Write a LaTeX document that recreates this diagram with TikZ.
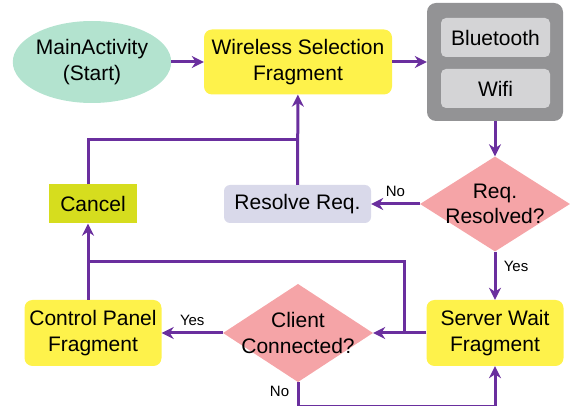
\documentclass[tikz,border=0pt]{standalone}
\usepackage{fontspec}
\setmainfont{Liberation Sans}
\usetikzlibrary{arrows.meta, shapes.geometric, positioning}

\definecolor{flowpurple}{HTML}{6A2F9E}
\definecolor{fragyellow}{HTML}{FEF24B}
\definecolor{startmint}{HTML}{B3E3CF}
\definecolor{radiogray}{HTML}{939395}
\definecolor{radiolight}{HTML}{D4D4D6}
\definecolor{decidepink}{HTML}{F5A4A7}
\definecolor{cancelgreen}{HTML}{D6DD1E}
\definecolor{resolvelav}{HTML}{D9D9EA}

\newcommand{\flowfont}{\fontsize{21}{25.5}\selectfont}
\newcommand{\labfont}{\fontsize{15}{17}\selectfont}

\begin{document}
\begin{tikzpicture}[x=1pt,y=-1pt,
    line/.style={draw=flowpurple, line width=3pt},
    arr/.style={line, -{Stealth[length=12pt,width=12pt]}},
    lab/.style={font=\labfont, text=black},
    startnode/.style={ellipse, fill=startmint, minimum width=155pt, minimum height=82pt, inner sep=0pt, align=center, font=\flowfont},
    frag/.style={fill=fragyellow, rounded corners=8pt, inner sep=2pt, align=center, font=\flowfont},
    radiobox/.style={fill=radiogray, rounded corners=9pt, minimum width=136pt, minimum height=118pt},
    subbox/.style={fill=radiolight, rounded corners=5pt, minimum width=109pt, minimum height=39pt, inner sep=0pt, font=\flowfont},
    decide/.style={diamond, fill=decidepink, minimum width=150pt, minimum height=95pt, inner sep=-14pt, align=center, font=\flowfont},
    resolvebox/.style={fill=resolvelav, rounded corners=6pt, minimum width=147pt, minimum height=38pt, inner sep=0pt, font=\flowfont},
    cancelbox/.style={fill=cancelgreen, minimum width=88pt, minimum height=39pt, inner sep=0pt, font=\flowfont}]

    \useasboundingbox (0,0) rectangle (571,406);

    \node[startnode] (main) at (92,62) {MainActivity\\(Start)};
    \node[frag, minimum width=188pt, minimum height=65pt] (wsf) at (298,62) {Wireless Selection\\Fragment};
    \node[radiobox] (radio) at (495,62) {};
    \node[subbox] (bt) at (495.5,37.5) {Bluetooth};
    \node[subbox] (wifi) at (495.5,88.5) {Wifi};
    \node[decide] (reqok) at (495,204) {Req.\\Resolved?};
    \node[resolvebox] (resolve) at (297.5,204) {Resolve Req.};
    \node[cancelbox] (cancel) at (93,204) {Cancel};
    \node[frag, minimum width=137pt, minimum height=66pt] (server) at (495,333) {Server Wait\\Fragment};
    \node[decide] (client) at (298,333) {Client\\Connected?};
    \node[frag, minimum width=137pt, minimum height=66pt] (panel) at (93,333) {Control Panel\\Fragment};

    \coordinate (upjoin) at (297.5,140);
    \coordinate (lowjoin) at (88,262);
    \coordinate (srvjoin) at (404,333);

    \draw[arr] (main) -- (wsf);
    \draw[arr] (wsf) -- (radio);
    \draw[arr] (radio) -- (reqok);
    \draw[arr] (reqok) -- node[lab, above=3pt] {No} (resolve);
    \draw[arr] (reqok) -- node[lab, right=4pt, pos=0.3] {Yes} (server);
    \draw[arr] (resolve) -- (wsf);
    \draw[line] ([xshift=-5pt]cancel.north) |- (upjoin);
    \draw[arr] ([xshift=-5pt]panel.north) -- ([xshift=-5pt]cancel.south);
    \draw[arr] (server) -- (client);
    \draw[line] (srvjoin) |- (lowjoin);
    \draw[arr] (client) -- node[lab, above=3pt] {Yes} (panel);
    \draw[arr] (client.south) -- node[lab, left=4pt, pos=0.4] {No} ++(0,24) -| (server.south);
\end{tikzpicture}
\end{document}
